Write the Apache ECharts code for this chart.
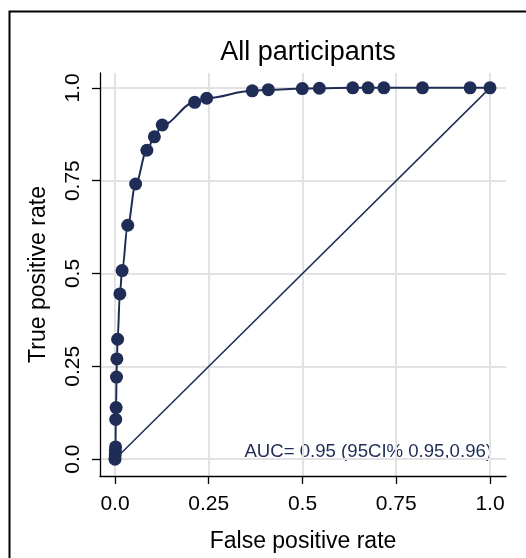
<!DOCTYPE html>
<html>
<head>
<meta charset="utf-8">
<script src="https://cdn.jsdelivr.net/npm/echarts@6/dist/echarts.min.js"></script>
<style>
html,body{margin:0;padding:0;background:#fff;}
#chart{width:526px;height:558px;}
</style>
</head>
<body>
<div id="chart"></div>
<script>
// ROC points (False positive rate, True positive rate)
const fpr = [0, 0.0005, 0.001, 0.0015, 0.002, 0.003, 0.004, 0.005, 0.007, 0.013, 0.019, 0.034, 0.055, 0.085, 0.105, 0.126, 0.2125, 0.2445, 0.366, 0.409, 0.4995, 0.545, 0.634, 0.675, 0.717, 0.82, 0.947, 1.0];
const tpr = [0, 0.012, 0.022, 0.033, 0.107, 0.139, 0.221, 0.27, 0.323, 0.445, 0.508, 0.63, 0.741, 0.832, 0.868, 0.9, 0.961, 0.972, 0.992, 0.995, 0.998, 0.999, 1.0, 1.0, 1.0, 1.0, 1.0, 1.0];
// reference diagonal
const diagX = [0, 1];
const diagY = [0, 1];
// axis ticks
const tickValues = [0, 0.25, 0.5, 0.75, 1];
const tickLabels = ['0.0', '0.25', '0.5', '0.75', '1.0'];
const titleText = 'All participants';
const xName = 'False positive rate';
const yName = 'True positive rate';
const aucText = 'AUC= 0.95 (95CI% 0.95,0.96)';

const navy = '#1f2c56';
const fontFam = '"Liberation Sans", Arial, sans-serif';
const fmt = v => {
  const i = tickValues.findIndex(t => Math.abs(t - v) < 1e-9);
  return i >= 0 ? tickLabels[i] : '';
};

const chart = echarts.init(document.getElementById('chart'), null, {renderer: 'canvas'});
const axisCommon = {
  type: 'value',
  axisLine: {show: true, onZero: false, lineStyle: {color: '#000', width: 1.3}},
  axisTick: {show: true, length: 8, lineStyle: {color: '#000', width: 1.3}, customValues: tickValues},
  axisLabel: {color: '#000', fontSize: 21, fontFamily: fontFam, formatter: fmt, customValues: tickValues},
  splitLine: {show: true, lineStyle: {color: '#e2e2e2', width: 2}},
  nameLocation: 'middle',
  nameTextStyle: {color: '#000', fontSize: 23, fontFamily: fontFam}
};
chart.setOption({
  animation: false,
  backgroundColor: '#fff',
  title: {
    text: titleText,
    left: 303,
    top: 34,
    textAlign: 'center',
    textStyle: {color: '#000', fontSize: 27, fontWeight: 'normal', fontFamily: fontFam}
  },
  grid: {left: 100, right: 20, top: 73, bottom: 78, containLabel: false},
  xAxis: Object.assign({}, axisCommon, {
    min: -0.04, max: 1.0427,
    name: xName, nameGap: 54,
    axisLabel: Object.assign({}, axisCommon.axisLabel, {margin: 18})
  }),
  yAxis: Object.assign({}, axisCommon, {
    min: -0.0453, max: 1.04,
    name: yName, nameGap: 50,
    axisLabel: Object.assign({}, axisCommon.axisLabel, {margin: 16, rotate: 90})
  }),
  graphic: [
    {type: 'rect', shape: {x: 9.5, y: 11.5, width: 700, height: 700}, style: {fill: 'none', stroke: '#000', lineWidth: 2}, silent: true},
    {type: 'text', right: 34, top: 442, style: {text: aucText, fill: navy, fontSize: 18.6, fontFamily: fontFam}}
  ],
  series: [
    {
      type: 'line',
      data: diagX.map((x, i) => [x, diagY[i]]),
      showSymbol: false,
      lineStyle: {color: navy, width: 1.5},
      z: 2
    },
    {
      type: 'line',
      data: fpr.map((x, i) => [x, tpr[i]]),
      smooth: 0.35,
      smoothMonotone: 'x',
      symbol: 'circle',
      symbolSize: 13,
      showAllSymbol: true,
      itemStyle: {color: navy},
      lineStyle: {color: navy, width: 2},
      z: 3
    }
  ]
});
</script>
</body>
</html>
